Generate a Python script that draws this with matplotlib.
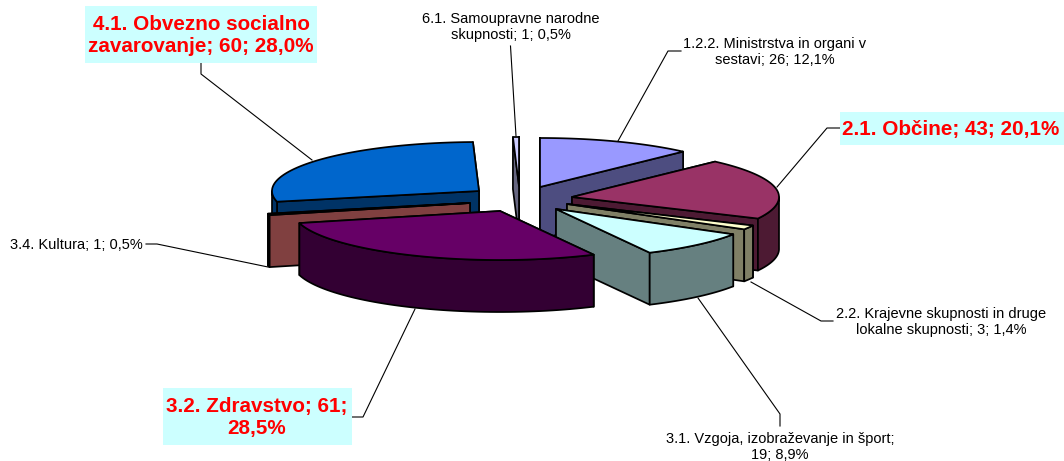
import numpy as np
import matplotlib
matplotlib.use('Agg')
import matplotlib.pyplot as plt

plt.rcParams['font.family'] = ['Liberation Sans', 'DejaVu Sans']

# ── Data ──────────────────────────────────────────────────────────────────────
categories = ['1.2.2. Ministrstva in organi v\nsestavi', '2.1. Občine',
              '2.2. Krajevne skupnosti in druge\nlokalne skupnosti',
              '3.1. Vzgoja, izobraževanje in šport;\n', '3.2. Zdravstvo',
              '3.4. Kultura', '4.1. Obvezno socialno\nzavarovanje',
              '6.1. Samoupravne narodne\nskupnosti']
values = [26, 43, 3, 19, 61, 1, 60, 1]
percent_text = ['12,1%', '20,1%', '1,4%', '8,9%', '28,5%', '0,5%', '28,0%', '0,5%']

# ── Styling / layout (pixels of the picture) ──────────────────────────────────
top_colors = ['#9999FF', '#993366', '#FFFFCC', '#CCFFFF', '#660066', '#FF8080', '#0066CC', '#CCCCFF']
side_colors = ['#4D4D80', '#4D1A33', '#808066', '#668080', '#330033', '#804040', '#003366', '#666680']
apexes = [(540, 187), (572, 197), (567, 204), (556, 209), (500, 211), (470, 203), (479, 191), (519, 186)]
draw_order = [7, 0, 6, 1, 5, 2, 3, 4]
RX, RY, DEPTH = 207, 49, 52

label_style = [
    dict(xy=(775, 52), big=False, leader=[(681, 51), (668, 51), (618, 141)]),
    dict(xy=(951, 129), big=True, box=(840, 112, 1064, 145), leader=[(840, 128), (827, 128), (777, 187)]),
    dict(xy=(941, 322), big=False, leader=[(833, 321), (821, 321), (751, 282)]),
    dict(xy=(780, 447), big=False, leader=[(780, 426), (780, 414), (698, 298)]),
    dict(xy=(257, 417), big=True, box=(163, 388, 352, 445), leader=[(352, 417), (363, 417), (415, 309)]),
    dict(xy=(76, 245), big=False, leader=[(146, 244), (157, 244), (268, 267)]),
    dict(xy=(201, 36), big=True, box=(85, 6, 317, 63), leader=[(201, 63), (201, 74), (312, 160)]),
    dict(xy=(511, 27), big=False, leader=[(510.5, 46), (516, 136)]),
]
label_text = [
    f'{categories[0]}; {values[0]}; {percent_text[0]}',
    f'{categories[1]}; {values[1]}; {percent_text[1]}',
    f'{categories[2]}; {values[2]}; {percent_text[2]}',
    f'{categories[3]}{values[3]}; {percent_text[3]}',
    f'{categories[4]}; {values[4]};\n{percent_text[4]}',
    f'{categories[5]}; {values[5]}; {percent_text[5]}',
    f'{categories[6]}; {values[6]}; {percent_text[6]}',
    f'{categories[7]}; {values[7]}; {percent_text[7]}',
]

fig = plt.figure(figsize=(10.64, 4.61), dpi=100)
ax = fig.add_axes([0, 0, 1, 1])
ax.set_xlim(0, 1064)
ax.set_ylim(461, 0)
ax.axis('off')


def rim_point(apex, theta):
    # theta runs clockwise from 12 o'clock, as in the pie
    return apex[0] + RX * np.sin(theta), apex[1] - RY * np.cos(theta)


edges = np.cumsum([0] + values) / sum(values) * 2 * np.pi

# ── Leader lines first, slices go over their ends ─────────────────────────────
for style in label_style:
    xs, ys = zip(*style['leader'])
    ax.plot(xs, ys, color='black', lw=0.8, zorder=1)

# ── Slices, back to front ─────────────────────────────────────────────────────
for rank, i in enumerate(draw_order):
    z = 2 + rank
    apex = apexes[i]
    t0, t1 = edges[i], edges[i + 1]
    top_col, side_col = top_colors[i], side_colors[i]

    # radial walls, the one nearer the viewer last
    walls = sorted([t0, t1], key=lambda t: rim_point(apex, t)[1])
    for t in walls:
        px, py = rim_point(apex, t)
        ax.fill([apex[0], px, px, apex[0]], [apex[1], py, py + DEPTH, apex[1] + DEPTH],
                facecolor=side_col, edgecolor='black', lw=1.25, joinstyle='round', zorder=z)

    # outer rim, front half only
    lo, hi = max(t0, np.pi / 2), min(t1, 3 * np.pi / 2)
    if lo < hi:
        arc = np.linspace(lo, hi, 60)
        px, py = rim_point(apex, arc)
        ax.fill(np.r_[px, px[::-1]], np.r_[py, py[::-1] + DEPTH],
                facecolor=side_col, edgecolor='black', lw=1.25, joinstyle='round', zorder=z)

    # top face
    arc = np.linspace(t0, t1, 80)
    px, py = rim_point(apex, arc)
    ax.fill(np.r_[apex[0], px], np.r_[apex[1], py],
            facecolor=top_col, edgecolor='black', lw=1.25, joinstyle='round', zorder=z)

# ── Labels ────────────────────────────────────────────────────────────────────
for text, style in zip(label_text, label_style):
    if style['big']:
        x0, y0, x1, y1 = style['box']
        ax.fill([x0, x1, x1, x0], [y0, y0, y1, y1], color='#CCFFFF', lw=0, zorder=20)
        ax.text(*style['xy'], text, ha='center', va='center', ma='center', color='red',
                fontweight='bold', fontsize=14.9, linespacing=1.2, zorder=21)
    else:
        ax.text(*style['xy'], text, ha='center', va='center', ma='center', color='black',
                fontsize=10.5, linespacing=1.16, zorder=21)

plt.savefig('out.png', dpi=100)
